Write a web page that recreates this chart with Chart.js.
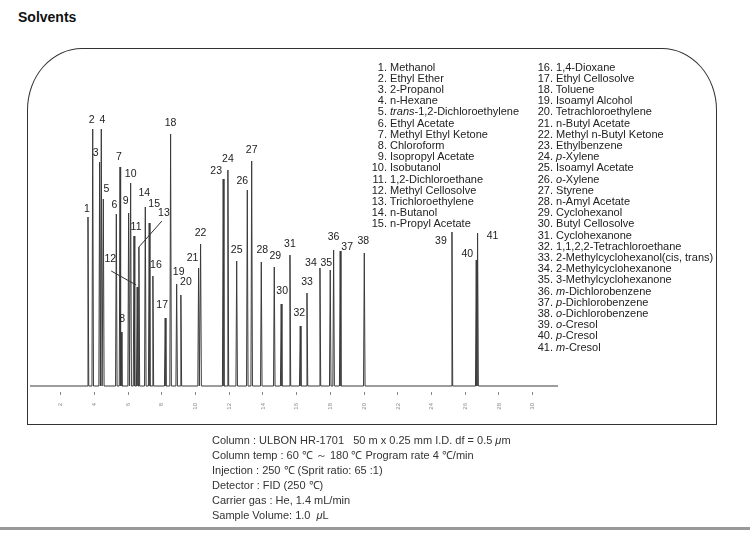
<!DOCTYPE html>
<html>
<head>
<meta charset="utf-8">
<script src="https://cdn.jsdelivr.net/npm/chart.js@4"></script>
<style>
  body { margin: 0; width: 750px; height: 541px; position: relative; background: #fff; overflow: hidden;
         font-family: "Liberation Sans", Arial, sans-serif; color: #222; }
  #title { position: absolute; left: 18px; top: 9px; font-size: 14px; font-weight: bold; color: #111; }
  #frame { position: absolute; left: 27px; top: 48px; width: 690px; height: 377px; box-sizing: border-box;
           border: 1.5px solid #333; border-radius: 55px 55px 0 0 / 62px 62px 0 0; }
  #chart { position: absolute; left: 0; top: 0; }
  .row { position: absolute; font-size: 11px; line-height: 11px; white-space: nowrap; color: #222; }
  .row .num { display: inline-block; text-align: right; }
  #cond { position: absolute; left: 212px; top: 433px; font-size: 11px; line-height: 14.9px; color: #333; }
  #bottomBar { position: absolute; left: 0; top: 527px; width: 750px; height: 3px; background: #999; }
</style>
</head>
<body>
<div id="title">Solvents</div>
<div id="frame"></div>
<canvas id="chart" width="750" height="541"></canvas>
<div id="legend"></div>
<div id="cond"></div>
<div id="bottomBar"></div>
<script>
// peak data (time in min, height in arbitrary units)
const peakNumbers = [1, 2, 3, 4, 5, 6, 7, 8, 9, 10, 11, 12, 13, 14, 15, 16, 17, 18, 19, 20, 21,
                     22, 23, 24, 25, 26, 27, 28, 29, 30, 31, 32, 33, 34, 35, 36, 37, 38, 39, 40, 41];
const retentionTimes = [3.62, 3.90, 4.31, 4.41, 4.53, 5.30, 5.52, 5.59, 6.03, 6.15, 6.35, 6.54, 6.64, 7.02,
                        7.25, 7.47, 8.20, 8.52, 8.88, 9.13, 10.18, 10.30, 11.64, 11.92, 12.44, 13.07, 13.33,
                        13.90, 14.67, 15.08, 15.60, 16.21, 16.61, 17.38, 17.99, 18.19, 18.58, 20.01, 25.21,
                        26.65, 26.73];
const peakHeights = [169, 257, 224, 257, 187, 172, 219, 54, 173, 203, 150, 99, 139, 179, 163, 110, 68, 252,
                     102, 91, 118, 142, 207, 216, 125, 196, 225, 124, 119, 82, 131, 60, 93, 118, 116, 136,
                     135, 133, 154, 126, 153];
const tickValues = [2, 4, 6, 8, 10, 12, 14, 16, 18, 20, 22, 24, 26, 28, 30];

const compounds = [
  'Methanol', 'Ethyl Ether', '2-Propanol', 'n-Hexane', '<i>trans</i>-1,2-Dichloroethylene', 'Ethyl Acetate',
  'Methyl Ethyl Ketone', 'Chloroform', 'Isopropyl Acetate', 'Isobutanol', '1,2-Dichloroethane',
  'Methyl Cellosolve', 'Trichloroethylene', 'n-Butanol', 'n-Propyl Acetate', '1,4-Dioxane',
  'Ethyl Cellosolve', 'Toluene', 'Isoamyl Alcohol', 'Tetrachloroethylene', 'n-Butyl Acetate',
  'Methyl n-Butyl Ketone', 'Ethylbenzene', '<i>p</i>-Xylene', 'Isoamyl Acetate', '<i>o</i>-Xylene', 'Styrene',
  'n-Amyl Acetate', 'Cyclohexanol', 'Butyl Cellosolve', 'Cyclohexanone', '1,1,2,2-Tetrachloroethane',
  '2-Methylcyclohexanol(cis, trans)', '2-Methylcyclohexanone', '3-Methylcyclohexanone',
  '<i>m</i>-Dichlorobenzene', '<i>p</i>-Dichlorobenzene', '<i>o</i>-Dichlorobenzene', '<i>o</i>-Cresol',
  '<i>p</i>-Cresol', '<i>m</i>-Cresol'
];

const conditions = [
  'Column : ULBON HR-1701&nbsp;&nbsp;&nbsp;50 m x 0.25 mm I.D. df = 0.5 <i>μ</i>m',
  'Column temp : 60 ℃ ～ 180 ℃ Program rate 4 ℃/min',
  'Injection : 250 ℃ (Sprit ratio: 65 :1)',
  'Detector : FID (250 ℃)',
  'Carrier gas : He, 1.4 mL/min',
  'Sample Volume: 1.0 &nbsp;<i>μ</i>L'
];

// label offsets from the peak apex [dx, dy]
const labelNudge = [
  [-1, -8], [-1, -9], [-4, -9], [1, -9], [3, -10], [-2, -9], [-1, -10], [1, -13], [-3, -12], [0, -9],
  [2, -9], [-27, -28], [25, -34], [-1, -14], [5, -19], [3, -11], [-3, -13], [0, -11], [2, -12], [5, -13],
  [-6, -10], [0, -11], [-7, -8], [0, -11], [0, -11], [-5, -9], [0, -11], [1, -12], [1, -11], [1, -13],
  [0, -11], [-1, -13], [0, -11], [-9, -5], [-4, -7], [0, -13], [7, -4], [-1, -12], [-11, 9], [-9, -6],
  [15, 3]
];
// leader lines [peakIndex, x1, y1, x2, y2] relative to apex
const leaders = [[11, -26, -16, -1, -2], [12, 23, -26, 0, 0]];

// legend list
const legend = document.getElementById('legend');
compounds.forEach((name, i) => {
  const col = i < 15 ? 0 : 1;
  const r = col === 0 ? i : i - 15;
  const div = document.createElement('div');
  div.className = 'row';
  div.style.top = (61.5 + r * 11.2) + 'px';
  div.style.left = (col === 0 ? 366 : 533) + 'px';
  div.innerHTML = '<span class="num" style="width:' + (col === 0 ? 21 : 20) + 'px">' + peakNumbers[i] +
                  '.</span> ' + name;
  legend.appendChild(div);
});
document.getElementById('cond').innerHTML = conditions.join('<br>');

// chromatogram trace built from the peak table
const halfWidth = 0.045;
const trace = [{ x: 0.18, y: 0 }, { x: 31.5, y: 0 }];
retentionTimes.forEach((t, i) => {
  trace.push({ x: t - halfWidth, y: 0 }, { x: t, y: peakHeights[i] }, { x: t + halfWidth, y: 0 });
});
trace.sort((a, b) => a.x - b.x);

const peakLabels = {
  id: 'peakLabels',
  afterDatasetsDraw(chart) {
    const { ctx, scales: { x, y } } = chart;
    ctx.save();
    ctx.font = '10.5px "Liberation Sans", Arial, sans-serif';
    ctx.fillStyle = '#222';
    ctx.textAlign = 'center';
    ctx.textBaseline = 'middle';
    retentionTimes.forEach((t, i) => {
      const px = x.getPixelForValue(t);
      const py = y.getPixelForValue(peakHeights[i]);
      const [dx, dy] = labelNudge[i] || [0, -11];
      ctx.fillText(String(peakNumbers[i]), px + dx, py + dy);
    });
    ctx.strokeStyle = '#333';
    ctx.lineWidth = 1;
    leaders.forEach(([i, x1, y1, x2, y2]) => {
      const px = x.getPixelForValue(retentionTimes[i]);
      const py = y.getPixelForValue(peakHeights[i]);
      ctx.beginPath();
      ctx.moveTo(px + x1, py + y1);
      ctx.lineTo(px + x2, py + y2);
      ctx.stroke();
    });
    ctx.restore();
  }
};

new Chart(document.getElementById('chart').getContext('2d'), {
  type: 'line',
  data: {
    datasets: [{
      data: trace,
      borderColor: '#3a3a3a',
      borderWidth: 1,
      pointRadius: 0,
      tension: 0,
      fill: false
    }]
  },
  options: {
    responsive: false,
    animation: false,
    events: [],
    layout: { padding: { left: 30, right: 192, top: 106, bottom: 129 } },
    plugins: { legend: { display: false }, tooltip: { enabled: false } },
    scales: {
      x: {
        type: 'linear',
        min: 0.18,
        max: 31.5,
        border: { display: false },
        grid: { drawOnChartArea: false, drawTicks: true, tickLength: 3, color: '#888' },
        afterBuildTicks: (s) => { s.ticks = tickValues.map(v => ({ value: v })); },
        afterFit: (s) => { s.height = 20; },
        ticks: { autoSkip: false, minRotation: 90, maxRotation: 90, padding: 8,
                 font: { size: 6 }, color: '#888' }
      },
      y: { display: false, min: -6, max: 280 }
    }
  },
  plugins: [peakLabels]
});
</script>
</body>
</html>
